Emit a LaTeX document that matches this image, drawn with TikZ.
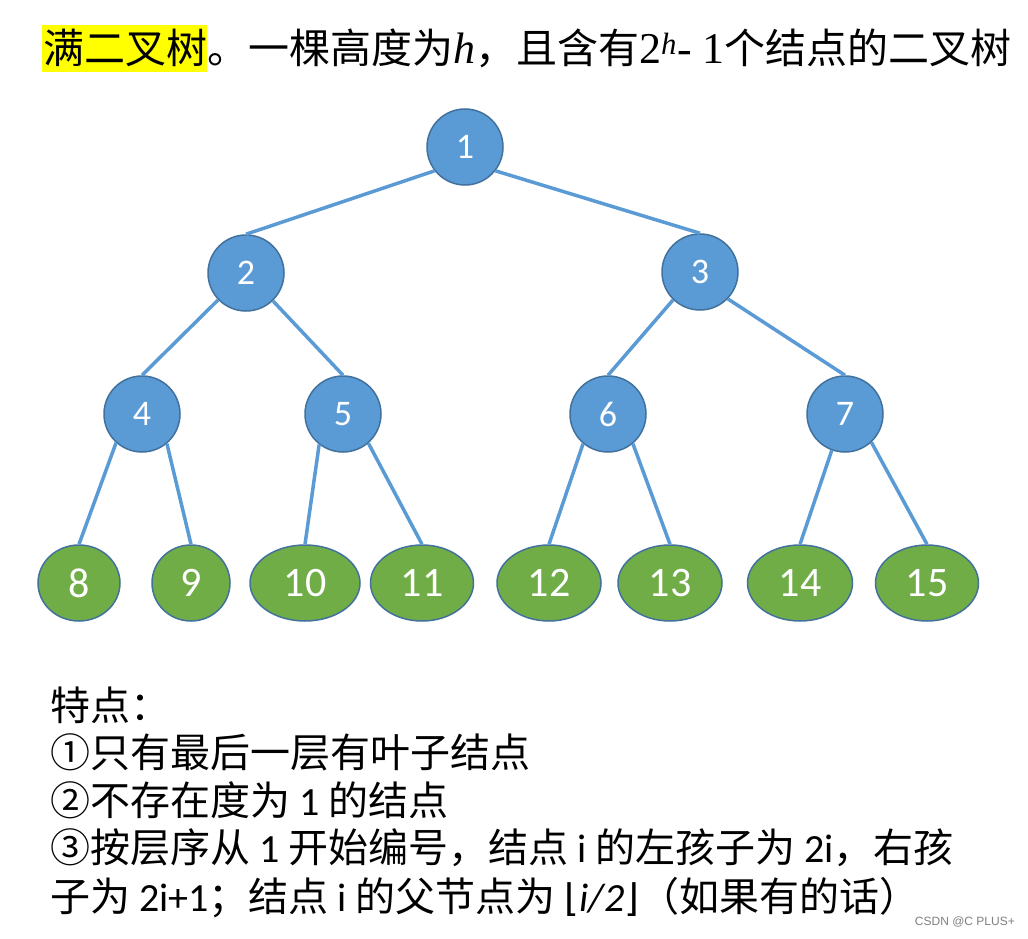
\documentclass[tikz,border=0pt]{standalone}
\usepackage{fontspec}
\setmainfont{Carlito}
\newfontfamily\cjk{Noto Sans CJK SC}
\newfontfamily\tserif{Liberation Serif}
\newfontfamily\arialf{Liberation Sans}
\newfontfamily\dejavu{DejaVu Sans}
\usetikzlibrary{shapes.geometric}
\definecolor{nblue}{HTML}{5B9BD5}
\definecolor{nblueb}{HTML}{41719C}
\definecolor{ngreen}{HTML}{70AD47}
\definecolor{hl}{HTML}{FFFF00}
\newcommand{\lat}[1]{{\rmfamily #1}}
\begin{document}
\begin{tikzpicture}[x=1pt,y=-1pt,
  inode/.style={circle, fill=nblue, draw=nblueb, line width=1.5pt, minimum size=76pt, inner sep=0pt, text=white, font=\fontsize{36}{36}\selectfont},
  leaf/.style={ellipse, fill=ngreen, draw=nblueb, line width=1.5pt, minimum height=76pt, inner sep=0pt, text=white, font=\fontsize{42}{42}\selectfont},
  edge/.style={draw=nblue, line width=3.5pt},
  body/.style={anchor=west, inner sep=0pt, font=\cjk\fontsize{40}{40}\selectfont},
]
\fill[white] (0,0) rectangle (1028,939);
\path[use as bounding box] (0,0) rectangle (1028,939);

% title
\fill[hl] (42,25) rectangle (207,72);
\node[anchor=west, inner sep=0pt, font=\cjk\fontsize{41}{41}\selectfont] (title) at (43,48)
  {满二叉树。一棵高度为{\tserif\fontsize{44}{44}\selectfont\itshape h}，且含有{\tserif\fontsize{44}{44}\selectfont 2\textsuperscript{\itshape h}- 1}个结点的二叉树};

% internal nodes
\node[inode] (n1) at (465,147) {1};
\node[inode] (n2) at (246,273) {2};
\node[inode] (n3) at (700,272) {3};
\node[inode] (n4) at (142,414) {4};
\node[inode] (n5) at (343,414) {5};
\node[inode] (n6) at (608,414) {6};
\node[inode] (n7) at (845,414) {7};

% leaves
\node[leaf, minimum width=82pt]  (n8)  at (79,583)  {8};
\node[leaf, minimum width=78pt]  (n9)  at (191,583) {9};
\node[leaf, minimum width=110pt] (n10) at (305,583) {10};
\node[leaf, minimum width=103pt] (n11) at (422,583) {11};
\node[leaf, minimum width=104pt] (n12) at (549,583) {12};
\node[leaf, minimum width=104pt] (n13) at (670,583) {13};
\node[leaf, minimum width=105pt] (n14) at (800,583) {14};
\node[leaf, minimum width=103pt] (n15) at (927,583) {15};

% edges
\draw[edge] (n1.218) -- (n2.north);
\draw[edge] (n1.322) -- (n3.north);
\draw[edge] (n2.224) -- (n4.north);
\draw[edge] (n2.314) -- (n5.north);
\draw[edge] (n3.226) -- (n6.north);
\draw[edge] (n3.316) -- (n7.north);
\draw[edge] (n4.228) -- (n8.north);
\draw[edge] (n4.310) -- (n9.north);
\draw[edge] (n5.232) -- (n10.north);
\draw[edge] (n5.311) -- (n11.north);
\draw[edge] (n6.230) -- (n12.north);
\draw[edge] (n6.310) -- (n13.north);
\draw[edge] (n7.250) -- (n14.north);
\draw[edge] (n7.313) -- (n15.north);

% text
\node[body] (t0) at (50,705) {特点：};
\node[body] (t1) at (50,752) {①只有最后一层有叶子结点};
\node[body] (t2) at (50,800) {②不存在度为 \lat{1} 的结点};
\node[body] (t3) at (50,848) {③按层序从 \lat{1} 开始编号，结点 \lat{i} 的左孩子为 \lat{2i}，右孩};
\node[body] (t4) at (50,898) {子为 \lat{2i+1}；结点 \lat{i} 的父节点为 {\dejavu\fontsize{38}{38}\selectfont ⌊}\lat{\itshape i/2}{\dejavu\fontsize{38}{38}\selectfont ⌋}（如果有的话）};

\node[anchor=east, inner sep=0pt, font=\arialf\fontsize{12}{12}\selectfont, text=gray] (wm) at (1015,922) {CSDN @C PLUS+};
\end{tikzpicture}
\end{document}
